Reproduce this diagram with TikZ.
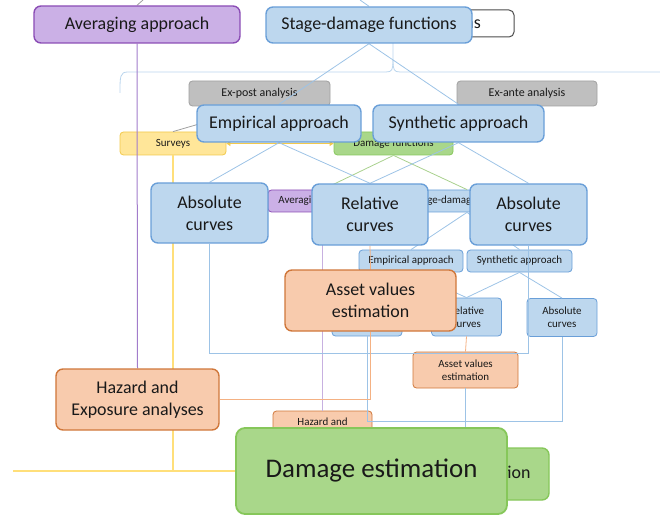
\documentclass[tikz,border=0pt]{standalone}
\usepackage{fontspec}
\setmainfont{Carlito}
\usetikzlibrary{arrows.meta}

\definecolor{blueFill}{HTML}{BDD7EE}
\definecolor{blueEdge}{HTML}{6A9FD8}
\definecolor{blueLine}{HTML}{9DC3E6}
\definecolor{purpFill}{HTML}{CBB0E6}
\definecolor{purpEdge}{HTML}{8B4DB5}
\definecolor{purpLine}{HTML}{A27CCB}
\definecolor{orgFill}{HTML}{F8CBAD}
\definecolor{orgEdge}{HTML}{D0773A}
\definecolor{orgLine}{HTML}{F4B183}
\definecolor{grnFill}{HTML}{A9D78A}
\definecolor{grnEdge}{HTML}{86C75A}
\definecolor{grnLine}{HTML}{A9D18E}
\definecolor{grayFill}{HTML}{BFBFBF}
\definecolor{grayEdge}{HTML}{A0A0A0}
\definecolor{yelFill}{HTML}{FFE699}
\definecolor{yelEdge}{HTML}{F2C94C}
\definecolor{yelLine}{HTML}{FFDF7A}

\pgfdeclarelayer{back}
\pgfdeclarelayer{mid}
\pgfsetlayers{back,mid,main}

\tikzset{
	bigbox/.style = {draw, rounded corners=7bp, line width=1.4bp, inner sep=0pt,
		align=center, text=black!90, font=\fontsize{18}{22}\selectfont},
	minibox/.style = {draw, rounded corners=3.5bp, line width=0.8bp, inner sep=0pt,
		align=center, text=black!90, font=\fontsize{11}{13}\selectfont},
	bluebox/.style = {fill=blueFill, draw=blueEdge},
	purpbox/.style = {fill=purpFill, draw=purpEdge},
	orgbox/.style = {fill=orgFill, draw=orgEdge},
	grnbox/.style = {fill=grnFill, draw=grnEdge},
	graybox/.style = {fill=grayFill, draw=grayEdge, font=\fontsize{12}{14}\selectfont},
	yelbox/.style = {fill=yelFill, draw=yelEdge},
	wire/.style = {line width=0.8bp},
}

\begin{document}
\begin{tikzpicture}[x=1bp, y=-1bp]
	\useasboundingbox (0,0) rectangle (660,515);

	\coordinate (topA) at (360,0);
	\coordinate (topB) at (143,0);
	\coordinate (yelEnd) at (13,471);

%small nodes of the earlier stage
\begin{pgfonlayer}{back}
	\node[minibox, fill=white, draw=black!70, line width=1bp, rounded corners=5bp,
		font=\fontsize{18}{22}\selectfont, minimum width=198bp, minimum height=27bp]
		(topbox) at (415,23.5) {Damage functions};

	\node[minibox, graybox, minimum width=141bp, minimum height=25bp] (expost) at (259.5,93.5) {Ex-post analysis};
	\node[minibox, graybox, minimum width=140bp, minimum height=25bp] (exante) at (527,93.5) {Ex-ante analysis};
	\node[minibox, yelbox, minimum width=106bp, minimum height=23bp] (surveys) at (173,143.5) {Surveys};
	\node[minibox, grnbox, minimum width=119bp, minimum height=23bp] (dmgfun) at (393.5,143.5) {Damage functions};

	\node[minibox, purpbox, minimum width=109bp, minimum height=22bp] (avgMini) at (322.5,201) {Averaging approach};
	\node[minibox, bluebox, minimum width=128bp, minimum height=22bp] (stageMini) at (467,201) {Stage-damage functions};

	\node[minibox, bluebox, minimum width=104bp, minimum height=22bp] (empMini) at (411,261) {Empirical approach};
	\node[minibox, bluebox, minimum width=105bp, minimum height=22bp] (synMini) at (519.5,261) {Synthetic approach};

	\node[minibox, bluebox, minimum width=70bp, minimum height=38bp] (absMiniL) at (367,317) {Absolute\\curves};
	\node[minibox, bluebox, minimum width=70bp, minimum height=38bp] (relMini) at (466.5,317) {Relative\\curves};
	\node[minibox, bluebox, minimum width=70bp, minimum height=38bp] (absMiniR) at (562,317.5) {Absolute\\curves};

	\node[minibox, orgbox, minimum width=105bp, minimum height=36bp] (assetMini) at (465.5,370) {Asset values\\estimation};
	\node[minibox, orgbox, minimum width=99bp, minimum height=36bp] (hazMini) at (322.5,429) {Hazard and\\Exposure analyses};

	\node[minibox, grnbox, line width=1.4bp, rounded corners=7bp, font=\fontsize{18}{22}\selectfont,
		minimum width=178bp, minimum height=52bp] (dmgMini) at (460,474) {Damage estimation};
\end{pgfonlayer}

%big nodes of the current stage
	\node[bigbox, purpbox, minimum width=206bp, minimum height=37bp] (avgBig) at (137,24.5) {Averaging approach};
	\node[bigbox, bluebox, minimum width=206bp, minimum height=36bp] (stageBig) at (369,25) {Stage-damage functions};

	\node[bigbox, bluebox, minimum width=164bp, minimum height=37bp] (empBig) at (279,123.5) {Empirical approach};
	\node[bigbox, bluebox, minimum width=171bp, minimum height=37bp] (synBig) at (458.5,123.5) {Synthetic approach};

	\node[bigbox, bluebox, minimum width=117bp, minimum height=60bp] (absL) at (209.5,213) {Absolute\\curves};
	\node[bigbox, bluebox, minimum width=116bp, minimum height=61bp] (relBig) at (370,214.5) {Relative\\curves};
	\node[bigbox, bluebox, minimum width=117bp, minimum height=61bp] (absR) at (528.5,214.5) {Absolute\\curves};

	\node[bigbox, orgbox, minimum width=171bp, minimum height=61bp] (assetBig) at (370.5,300.5) {Asset values\\estimation};
	\node[bigbox, orgbox, minimum width=163bp, minimum height=61bp] (hazBig) at (137.5,399.5) {Hazard and\\Exposure analyses};

	\node[bigbox, grnbox, line width=1.8bp, rounded corners=9bp, font=\fontsize{27}{32}\selectfont,
		minimum width=271bp, minimum height=86bp] (dmgBig) at (371.5,471) {Damage estimation};

%connectors
\begin{pgfonlayer}{mid}
	% bracket under the title
	\draw[wire, blueLine!70] (120,93) .. controls (120,76) and (120,72) .. (128,72) -- (386,72)
		.. controls (392,72) and (393,70) .. (393,60) -- (393,43);
	\draw[wire, blueLine!70] (393,60) .. controls (393,70) and (394,72) .. (400,72) -- (660,72);
	\draw[wire, blueLine] (topA) -- (stageBig.north);
	\draw[wire, grayEdge] (topB) -- (avgBig.north);

	% earlier stage
	\draw[wire, grayEdge] (surveys.north) -- (expost.south);
	\draw[wire, grayEdge] (dmgfun.north) -- (exante.south);
	\draw[wire, yelEdge, {Triangle[width=5bp,length=4bp]}-{Triangle[width=5bp,length=4bp]}]
		(surveys.east) -- (dmgfun.west);
	\draw[wire, grnLine] (dmgfun.south) -- (avgMini.north);
	\draw[wire, grnLine] (dmgfun.south) -- (stageMini.north);
	\draw[wire, blueLine] (stageMini.south) -- (empMini.north);
	\draw[wire, blueLine] (stageMini.south) -- (synMini.north);
	\draw[wire, blueLine] (empMini.south) -- (absMiniL.north);
	\draw[wire, blueLine] (empMini.south) -- (relMini.north);
	\draw[wire, blueLine] (synMini.south) -- (relMini.north);
	\draw[wire, blueLine] (synMini.south) -- (absMiniR.north);
	\draw[wire, blueLine] (absMiniL.south) -- ++(0,85) -| (absMiniR.south);
	\draw[wire, orgLine] (relMini.south) -- (assetMini.north);
	\draw[wire, blueLine] (assetMini.south) -- (assetMini.south |- dmgMini.north);
	\draw[wire, purpLine!60] (avgMini.south) -- (hazMini.north);

	% current stage
	\draw[wire, purpLine, line width=1bp] (avgBig.south) -- (hazBig.north);
	\draw[wire, blueLine] (stageBig.south) -- (empBig.north);
	\draw[wire, blueLine] (stageBig.south) -- (synBig.north);
	\draw[wire, blueLine] (empBig.south) -- (absL.north);
	\draw[wire, blueLine] (empBig.south) -- (relBig.north);
	\draw[wire, blueLine] (synBig.south) -- (relBig.north);
	\draw[wire, blueLine] (synBig.south) -- (absR.north);
	\draw[wire, blueLine] (absL.south) -- ++(0,110) -| (absR.south);
	\draw[wire, orgLine] (relBig.south) -- (assetBig.north);
	\draw[wire, orgLine] (assetBig.south) |- (hazBig.east);
	\draw[wire, yelLine, line width=1.2bp] (surveys.south) |- (dmgBig.west);
	\draw[wire, yelLine, line width=1.2bp] (yelEnd) -- (dmgBig.west);
\end{pgfonlayer}
\end{tikzpicture}
\end{document}
